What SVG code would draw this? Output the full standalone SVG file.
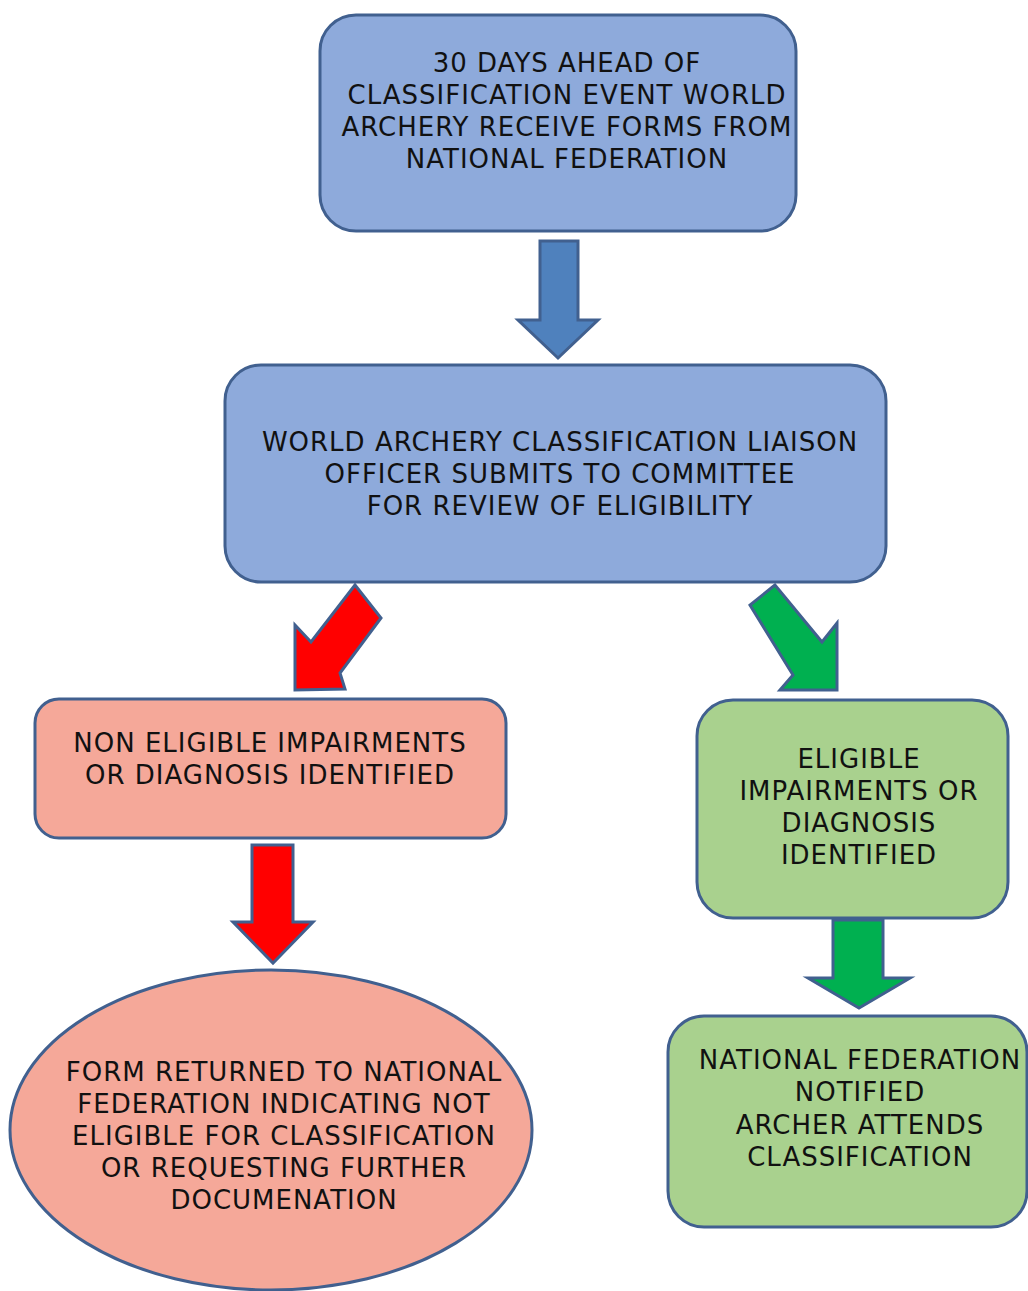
<svg xmlns="http://www.w3.org/2000/svg" width="1028" height="1291" viewBox="0 0 1028 1291">
<style>
.box{stroke:#41608f;stroke-width:3}
.blue{fill:#8eaadb}
.pink{fill:#f5a899}
.green{fill:#a9d18e}
.arr{stroke:#41608f;stroke-width:3;stroke-linejoin:miter}
text{font-family:"DejaVu Sans",Verdana,sans-serif;font-size:26px;letter-spacing:1px;fill:#111;text-anchor:middle}
</style>
<rect width="1028" height="1291" fill="#fff"/>
<g id="connectors">
<polygon class="arr" fill="#4f81bd" points="540,241 578,241 578,320 598,320 558,358 518,320 540,320"/>
<polygon class="arr" fill="#ff0000" points="355,585 381,618 340,673 345,689 295,690 295,625 311,642"/>
<polygon class="arr" fill="#00b050" points="775,585 750,605 793,675 780,690 837,690 837,623 822,642"/>
<polygon class="arr" fill="#ff0000" points="252,845 293,845 293,922 313,922 273,963 233,922 252,922"/>
<polygon class="arr" fill="#00b050" points="833,920 883,920 883,978 910,978 859,1008 808,978 833,978"/>
</g>
<g id="n1">
<rect class="box blue" x="320" y="15" width="476" height="216" rx="36"/>
<text x="567" y="72">30 DAYS AHEAD OF</text>
<text x="567" y="104">CLASSIFICATION EVENT WORLD</text>
<text x="567" y="136">ARCHERY RECEIVE FORMS FROM</text>
<text x="567" y="168">NATIONAL FEDERATION</text>
</g>
<g id="n2">
<rect class="box blue" x="225" y="365" width="661" height="217" rx="36"/>
<text x="560" y="451">WORLD ARCHERY CLASSIFICATION LIAISON</text>
<text x="560" y="483">OFFICER SUBMITS TO COMMITTEE</text>
<text x="560" y="515">FOR REVIEW OF ELIGIBILITY</text>
</g>
<g id="n3">
<rect class="box pink" x="35" y="699" width="471" height="139" rx="24"/>
<text x="270" y="752">NON ELIGIBLE IMPAIRMENTS</text>
<text x="270" y="784">OR DIAGNOSIS IDENTIFIED</text>
</g>
<g id="n4">
<ellipse class="box pink" cx="271" cy="1130" rx="261" ry="160"/>
<text x="284" y="1081">FORM RETURNED TO NATIONAL</text>
<text x="284" y="1113">FEDERATION INDICATING NOT</text>
<text x="284" y="1145">ELIGIBLE FOR CLASSIFICATION</text>
<text x="284" y="1177">OR REQUESTING FURTHER</text>
<text x="284" y="1209">DOCUMENATION</text>
</g>
<g id="n5">
<rect class="box green" x="697" y="700" width="311" height="218" rx="36"/>
<text x="859" y="768">ELIGIBLE</text>
<text x="859" y="800">IMPAIRMENTS OR</text>
<text x="859" y="832">DIAGNOSIS</text>
<text x="859" y="864">IDENTIFIED</text>
</g>
<g id="n6">
<rect class="box green" x="668" y="1016" width="359" height="211" rx="36"/>
<text x="860" y="1069">NATIONAL FEDERATION</text>
<text x="860" y="1101">NOTIFIED</text>
<text x="860" y="1134">ARCHER ATTENDS</text>
<text x="860" y="1166">CLASSIFICATION</text>
</g>
</svg>
